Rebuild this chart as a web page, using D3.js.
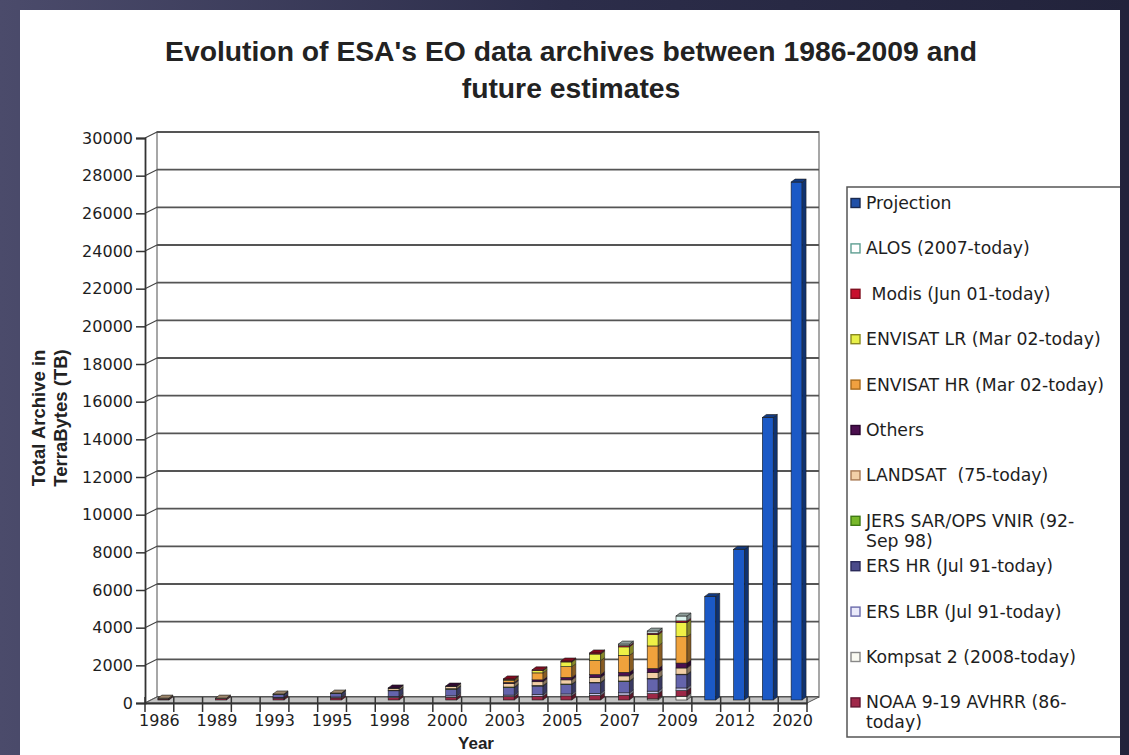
<!DOCTYPE html>
<html><head><meta charset="utf-8">
<script src="https://cdn.jsdelivr.net/npm/d3@7"></script>
<style>body{margin:0;overflow:hidden;background:#2a2b45} svg{display:block}</style>
</head><body><svg id="c" width="1129" height="755"></svg>
<script>
// ---------- DATA ----------
const categories = ["1986","","1989","","1993","","1995","","1998","","2000","","2003","2004","2005","2006","2007","2008","2009","2010","2012","2015","2020"];
const barYears   = ["1986","1989","1993","1995","1998","2000","2003","2004","2005","2006","2007","2008","2009","2010","2012","2015","2020"];
const yTicks = [0,2000,4000,6000,8000,10000,12000,14000,16000,18000,20000,22000,24000,26000,28000,30000];

const kompsat    = [0,0,0,0,0,0,0,0,0,0,0,60,200,0,0,0,0];
const noaa       = [50,70,100,110,130,150,180,200,220,240,260,280,300,0,0,0,0];
const ersLbr     = [0,0,40,50,60,70,80,90,100,110,120,130,140,0,0,0,0];
const ersHr      = [0,0,150,180,300,350,400,450,500,560,600,650,700,0,0,0,0];
const jers       = [0,0,20,25,30,30,30,30,30,30,30,30,30,0,0,0,0];
const landsat    = [50,30,10,5,100,120,180,200,220,250,270,300,330,0,0,0,0];
const others     = [0,0,0,0,20,20,60,100,130,160,190,220,260,0,0,0,0];
const envisatHr  = [0,0,0,0,0,0,110,370,570,740,900,1200,1400,0,0,0,0];
const envisatLr  = [0,0,0,0,0,0,50,120,250,350,450,600,750,0,0,0,0];
const modis      = [0,0,0,0,0,0,30,40,50,60,70,80,90,0,0,0,0];
const alos       = [0,0,0,0,0,0,0,0,0,0,80,110,260,0,0,0,0];
const projection = [0,0,0,0,0,0,0,0,0,0,0,0,0,5500,8000,15000,27500];

// stack order bottom -> top
const stackKeys   = ["kompsat","noaa","ersLbr","ersHr","jers","landsat","others","envisatHr","envisatLr","modis","alos","projection"];
const stackValues = [kompsat,noaa,ersLbr,ersHr,jers,landsat,others,envisatHr,envisatLr,modis,alos,projection];
const stackColors = ["#f6f6ee","#9c2846","#c8c8ee","#6464ac","#78b82a","#f2cfa6","#4b0f4f","#f0a23c","#eef046","#c8102e","#dcf3ee","#1b59c6"];

// legend (top -> bottom)
const legendLabels = ["Projection","ALOS (2007-today)"," Modis (Jun 01-today)","ENVISAT LR (Mar 02-today)","ENVISAT HR (Mar 02-today)","Others","LANDSAT  (75-today)","JERS SAR/OPS VNIR (92-\nSep 98)","ERS HR (Jul 91-today)","ERS LBR (Jul 91-today)","Kompsat 2 (2008-today)","NOAA 9-19 AVHRR (86-\ntoday)"];
const legendFill   = ["#2050a8","#ffffff","#c8102e","#e8f048","#f0a040","#4b0f4f","#f2d0a8","#78b82a","#4a4a8a","#eaeafa","#fafaf2","#a0284a"];
const legendStroke = ["#1a2a50","#5e9e92","#801020","#8a8a20","#a86a1c","#2a0530","#a87a54","#3f7a14","#2a2a5a","#6a6aaa","#888888","#601530"];

const titleLines = ["Evolution of ESA's EO data archives between 1986-2009 and","future estimates"];

// ---------- DRAW ----------
const svg = d3.select("#c");
const defs = svg.append("defs");
const g1 = defs.append("linearGradient").attr("id","bg").attr("x1","0").attr("x2","1").attr("y1","0").attr("y2","0");
g1.append("stop").attr("offset","0").attr("stop-color","#4b4b6b");
g1.append("stop").attr("offset","0.5").attr("stop-color","#2c2d4a");
g1.append("stop").attr("offset","1").attr("stop-color","#22233b");
svg.append("rect").attr("width",1129).attr("height",755).attr("fill","url(#bg)");
svg.append("rect").attr("x",20).attr("y",10).attr("width",1100).attr("height",760).attr("fill","#ffffff");

const main = svg.append("g");
const clip = defs.append("clipPath").attr("id","pan");
clip.append("rect").attr("x",20).attr("y",10).attr("width",1100).attr("height",760);
main.attr("clip-path","url(#pan)");

// title
main.append("g").selectAll("text").data(titleLines).join("text")
  .attr("x",571).attr("y",(d,i)=>61+i*37)
  .attr("text-anchor","middle")
  .attr("font-family","'Liberation Sans',Arial,sans-serif")
  .attr("font-weight","bold").attr("font-size",28.3).attr("fill","#222")
  .text(d=>d);

// scales
const DX = 12, DY = -6;          // 3D depth offset front->back
const y = d3.scaleLinear().domain([0,30000]).range([697,132]);   // back wall
const x = d3.scaleBand().domain(d3.range(categories.length)).range([145,807]).padding(0); // front
const bw = x.bandwidth();

const grid = main.append("g");
// back wall
grid.append("rect").attr("x",145+DX).attr("y",y(30000)).attr("width",807-145).attr("height",y(0)-y(30000))
  .attr("fill","#fff").attr("stroke","#8a8a8a").attr("stroke-width",1.5);
// gridlines + side diagonals
grid.selectAll("line.g").data(yTicks).join("line").attr("class","g")
  .attr("x1",145+DX).attr("x2",807+DX).attr("y1",d=>y(d)).attr("y2",d=>y(d))
  .attr("stroke","#555").attr("stroke-width",1.8);
grid.selectAll("line.d").data(yTicks).join("line").attr("class","d")
  .attr("x1",145).attr("x2",145+DX).attr("y1",d=>y(d)-DY).attr("y2",d=>y(d))
  .attr("stroke","#444").attr("stroke-width",1.2);
// floor
grid.append("polygon")
  .attr("points",[[145,y(0)-DY],[807,y(0)-DY],[807+DX,y(0)],[145+DX,y(0)]].map(p=>p.join(",")).join(" "))
  .attr("fill","#c4c4c4").attr("stroke","#555").attr("stroke-width",1);

// y axis (front)
const yFront = d3.scaleLinear().domain([0,30000]).range([y(0)-DY, y(30000)-DY]);
const yAxis = main.append("g").attr("transform","translate(145,0)")
  .call(d3.axisLeft(yFront).tickValues(yTicks).tickSize(9).tickPadding(3).tickFormat(d3.format("d")));
yAxis.select(".domain").attr("stroke","#333").attr("stroke-width",1.8);
yAxis.selectAll(".tick line").attr("stroke","#333").attr("stroke-width",1.5);
yAxis.selectAll(".tick text").attr("font-family","'DejaVu Sans',Verdana,sans-serif").attr("font-size",16).attr("fill","#1e1e1e");

// x axis (front)
const xAxis = main.append("g").attr("transform",`translate(0,${y(0)-DY})`)
  .call(d3.axisBottom(x).tickSize(0).tickPadding(12).tickFormat(i => i%2===0 ? categories[i] : ""));
xAxis.select(".domain").attr("stroke","#333").attr("stroke-width",1.8);
xAxis.selectAll(".tick text").attr("font-family","'DejaVu Sans',Verdana,sans-serif").attr("font-size",16).attr("fill","#1e1e1e");
// band-boundary ticks
main.append("g").selectAll("line").data(d3.range(categories.length+1)).join("line")
  .attr("x1",i=>145+i*bw).attr("x2",i=>145+i*bw)
  .attr("y1",y(0)).attr("y2",y(0)-DY+9)
  .attr("stroke","#333").attr("stroke-width",1.5);

// axis titles
main.append("text").attr("transform","translate(45,418) rotate(-90)")
  .attr("text-anchor","middle").attr("font-family","'Liberation Sans',Arial,sans-serif")
  .attr("font-weight","bold").attr("font-size",18.5).attr("fill","#222")
  .selectAll("tspan").data(["Total Archive in","TerraBytes (TB)"]).join("tspan")
  .attr("x",0).attr("dy",(d,i)=>i===0?0:22).text(d=>d);
main.append("text").attr("x",476).attr("y",749).attr("text-anchor","middle")
  .attr("font-family","'Liberation Sans',Arial,sans-serif").attr("font-weight","bold")
  .attr("font-size",17).attr("fill","#222").text("Year");

// stacked 3D bars
const rows = barYears.map((yr,j)=>{const r={year:yr}; stackKeys.forEach((k,s)=>r[k]=stackValues[s][j]); return r;});
const stacked = d3.stack().keys(stackKeys)(rows);
const BW = 11, BD = 4, BDY = -3;
const barsG = main.append("g");
rows.forEach((r,j)=>{
  const i = categories.indexOf(r.year);
  const cx = x(i) + bw/2 + DX/2;
  const xl = cx - (BW+BD)/2, xr = xl + BW;
  const yb = v => y(v) + 3;
  const g = barsG.append("g");
  let topSeg = null;
  stacked.forEach((layer,s)=>{
    const seg = layer[j];
    if (seg[1]-seg[0] <= 0) return;
    const c = stackColors[s];
    const y0 = yb(seg[0]), y1 = yb(seg[1]);
    g.append("rect").attr("x",xl).attr("y",y1).attr("width",BW).attr("height",y0-y1)
      .attr("fill",c).attr("stroke","#1a1a1a").attr("stroke-width",0.6);
    g.append("polygon").attr("points",[[xr,y1],[xr+BD,y1+BDY],[xr+BD,y0+BDY],[xr,y0]].map(p=>p.join(",")).join(" "))
      .attr("fill",d3.color(c).darker(1.6)).attr("stroke","#1a1a1a").attr("stroke-width",0.5);
    topSeg = {c, y1};
  });
  if (topSeg) {
    g.append("polygon").attr("points",[[xl,topSeg.y1],[xl+BD,topSeg.y1+BDY],[xr+BD,topSeg.y1+BDY],[xr,topSeg.y1]].map(p=>p.join(",")).join(" "))
      .attr("fill",d3.color(topSeg.c).darker(1.2)).attr("stroke","#1a1a1a").attr("stroke-width",0.6);
  }
});

// legend
const lg = main.append("g");
lg.append("rect").attr("x",847).attr("y",187).attr("width",290).attr("height",550)
  .attr("fill","#fff").attr("stroke","#555").attr("stroke-width",1.5);
const items = lg.selectAll("g.it").data(legendLabels).join("g").attr("class","it")
  .attr("transform",(d,i)=>`translate(851,${203+i*45.4})`);
items.append("rect").attr("x",0).attr("y",-4.5).attr("width",9).attr("height",9)
  .attr("fill",(d,i)=>legendFill[i]).attr("stroke",(d,i)=>legendStroke[i]).attr("stroke-width",1.4);
items.append("text").attr("x",15).attr("y",6)
  .attr("font-family","'DejaVu Sans',Verdana,sans-serif").attr("font-size",17.3).attr("fill","#1e1e1e")
  .style("white-space","pre")
  .each(function(d){
    const t = d3.select(this);
    d.split("\n").forEach((line,k)=>t.append("tspan").attr("x",15).attr("dy",k===0?0:20).text(line));
  });
</script></body></html>
